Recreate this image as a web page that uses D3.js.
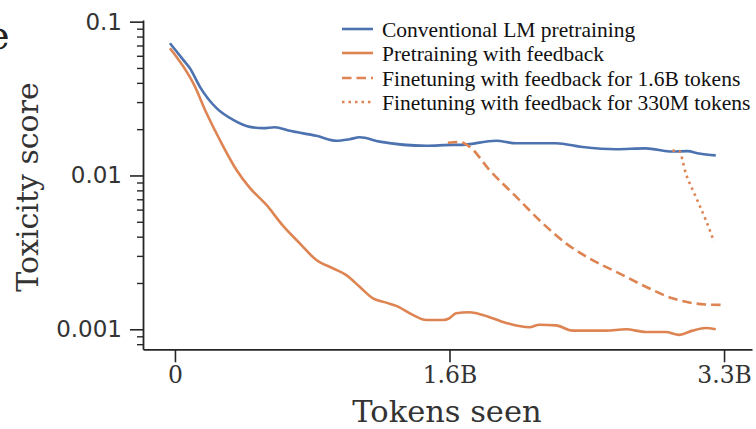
<!DOCTYPE html>
<html>
<head>
<meta charset="utf-8">
<script src="https://cdn.jsdelivr.net/npm/d3@7"></script>
<style>
  html, body { margin: 0; padding: 0; background: #fff; }
  svg { display: block; }
</style>
</head>
<body>
<div id="chart"></div>
<script>
// ---- data (tokens in billions, toxicity score) ----
const convT = [-0.03, 0.05, 0.09, 0.15, 0.25, 0.35, 0.45, 0.53, 0.60, 0.69, 0.85, 0.97, 1.05, 1.11, 1.23, 1.51, 1.67, 1.71, 1.93, 2.05, 2.29, 2.45, 2.65, 2.83, 2.99, 3.08, 3.15, 3.25];
const convV = [0.0724, 0.0564, 0.0498, 0.0377, 0.0274, 0.0230, 0.0207, 0.0203, 0.0206, 0.0195, 0.0181, 0.0168, 0.0172, 0.0177, 0.0166, 0.0156, 0.0158, 0.0158, 0.0168, 0.0162, 0.0162, 0.0153, 0.0148, 0.0150, 0.0143, 0.0144, 0.0139, 0.0135];

const pretrainT = [-0.03, 0.07, 0.11, 0.19, 0.27, 0.37, 0.45, 0.55, 0.65, 0.75, 0.85, 0.95, 1.03, 1.11, 1.19, 1.27, 1.33, 1.43, 1.51, 1.61, 1.65, 1.69, 1.77, 1.85, 1.99, 2.13, 2.19, 2.29, 2.39, 2.59, 2.71, 2.83, 2.95, 3.03, 3.11, 3.19, 3.25];
const pretrainV = [0.0671, 0.0473, 0.0398, 0.0254, 0.0170, 0.01086, 0.0083, 0.00643, 0.00470, 0.00362, 0.00282, 0.00249, 0.00225, 0.00189, 0.00159, 0.00149, 0.00142, 0.00124, 0.00115, 0.00115, 0.00118, 0.00127, 0.00129, 0.00124, 0.00110, 0.00103, 0.00107, 0.00106, 0.00098, 0.00098, 0.00100, 0.00096, 0.00096, 0.00092, 0.00098, 0.00102, 0.00100];

const ft16T = [1.64, 1.71, 1.77, 1.89, 2.05, 2.21, 2.35, 2.49, 2.67, 2.83, 2.99, 3.11, 3.19, 3.28];
const ft16V = [0.0163, 0.0165, 0.0154, 0.01086, 0.00728, 0.00489, 0.00362, 0.00289, 0.00231, 0.00189, 0.00159, 0.00148, 0.00145, 0.00144];

const ft330T = [2.99, 3.03, 3.07, 3.13, 3.19, 3.24];
const ft330V = [0.0145, 0.0144, 0.01033, 0.00728, 0.00514, 0.00371];

const xTickValues = [0, 1.65, 3.3];
const xTickLabels = ["0", "1.6B", "3.3B"];
const yTickValues = [0.001, 0.01, 0.1];
const yTickLabels = ["0.001", "0.01", "0.1"];

const legendLabels = [
  "Conventional LM pretraining",
  "Pretraining with feedback",
  "Finetuning with feedback for 1.6B tokens",
  "Finetuning with feedback for 330M tokens"
];

// ---- drawing ----
const W = 756, H = 429;
const BLUE = "#4c72b0", ORANGE = "#dd8452", AX = "#262626";

const svg = d3.select("#chart").append("svg")
  .attr("width", W).attr("height", H);

const x = d3.scaleLinear().domain([-0.192, 3.468]).range([143, 752]);
const y = d3.scaleLog().domain([0.000741, 0.1025]).range([349.3, 20]);

// minor tick positions
const minor = [];
[0.0001, 0.001, 0.01].forEach(d => { for (let k = 2; k <= 9; k++) minor.push(d * k); });
const minorIn = minor.filter(v => v >= y.domain()[0] && v <= y.domain()[1]);

// y axis (minor)
svg.append("g").attr("transform", "translate(143,0)")
  .call(d3.axisLeft(y).tickValues(minorIn).tickSize(6).tickSizeOuter(0).tickFormat(""))
  .call(g => g.select(".domain").remove())
  .call(g => g.selectAll("line").attr("stroke", AX).attr("stroke-width", 1.4));

// y axis (major)
const yAxis = svg.append("g").attr("transform", "translate(143,0)")
  .call(d3.axisLeft(y).tickValues(yTickValues).tickSize(13).tickSizeOuter(0).tickPadding(8)
    .tickFormat((d, i) => yTickLabels[i]));
yAxis.select(".domain").attr("stroke", AX).attr("stroke-width", 1.8);
yAxis.selectAll("line").attr("stroke", AX).attr("stroke-width", 1.6);
yAxis.selectAll("text").attr("fill", "#333").style("font-family", "'DejaVu Sans', sans-serif").style("font-size", "23px");

// x axis
const xAxis = svg.append("g").attr("transform", "translate(0,349.3)")
  .call(d3.axisBottom(x).tickValues(xTickValues).tickSize(13).tickSizeOuter(0).tickPadding(4)
    .tickFormat((d, i) => xTickLabels[i]));
xAxis.select(".domain").attr("stroke", AX).attr("stroke-width", 1.8);
xAxis.selectAll("line").attr("stroke", AX).attr("stroke-width", 1.6);
xAxis.selectAll("text").attr("fill", "#333").style("font-family", "'DejaVu Serif', serif").style("font-size", "23.5px");

// axis titles
svg.append("text").attr("x", 447).attr("y", 421.5).attr("text-anchor", "middle")
  .attr("fill", "#333").style("font-family", "'DejaVu Serif', serif").style("font-size", "30.5px")
  .text("Tokens seen");
svg.append("text").attr("transform", "translate(38,187) rotate(-90)").attr("text-anchor", "middle")
  .attr("fill", "#333").style("font-family", "'DejaVu Serif', serif").style("font-size", "30px")
  .text("Toxicity score");

// partial letter from neighbouring panel
svg.append("text").attr("x", -14).attr("y", 49)
  .attr("fill", "#222").style("font-family", "'DejaVu Serif', serif").style("font-size", "40px")
  .text("e");

// lines
const line = d3.line().x(d => x(d[0])).y(d => y(d[1])).curve(d3.curveMonotoneX);
const zip = (a, b) => a.map((t, i) => [t, b[i]]);

const series = [
  { data: zip(convT, convV), color: BLUE, dash: null },
  { data: zip(pretrainT, pretrainV), color: ORANGE, dash: null },
  { data: zip(ft16T, ft16V), color: ORANGE, dash: "9.5,5" },
  { data: zip(ft330T, ft330V), color: ORANGE, dash: "2.5,4" }
];

svg.append("g").selectAll("path").data(series).join("path")
  .attr("d", d => line(d.data))
  .attr("fill", "none")
  .attr("stroke", d => d.color)
  .attr("stroke-width", 2.6)
  .attr("stroke-dasharray", d => d.dash)
  .attr("stroke-linejoin", "round");

// legend
const leg = svg.append("g");
const rowsY = [29, 53, 78, 102];
legendLabels.forEach((lab, i) => {
  const s = series[i];
  leg.append("line").attr("x1", 342).attr("x2", 373).attr("y1", rowsY[i]).attr("y2", rowsY[i])
    .attr("stroke", s.color).attr("stroke-width", 2.6).attr("stroke-dasharray", s.dash);
  leg.append("text").attr("x", 382).attr("y", rowsY[i]).attr("dy", "0.35em")
    .attr("fill", "#111").style("font-family", "'Liberation Serif', 'Times New Roman', serif").style("font-size", "21.5px")
    .text(lab);
});
</script>
</body>
</html>
